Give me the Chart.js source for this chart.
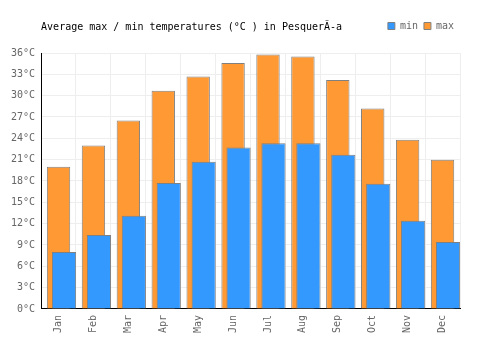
<!DOCTYPE html>
<html>
<head>
<meta charset="utf-8">
<script src="https://cdn.jsdelivr.net/npm/chart.js@4.4.1/dist/chart.umd.min.js"></script>
<style>
	html, body { margin: 0; padding: 0; background: #fff; }
</style>
</head>
<body>
<canvas id="chartTemps" width="500" height="350"></canvas>
<script>
'use strict'

const titleText = 'Average max / min temperatures (°C ) in PesquerÃ-a';
const months = ['Jan', 'Feb', 'Mar', 'Apr', 'May', 'Jun', 'Jul', 'Aug', 'Sep', 'Oct', 'Nov', 'Dec'];
const minTemps = [8.0, 10.4, 13.1, 17.7, 20.7, 22.7, 23.3, 23.3, 21.7, 17.6, 12.4, 9.4];
const maxTemps = [20.0, 23.0, 26.5, 30.7, 32.7, 34.6, 35.8, 35.5, 32.2, 28.2, 23.8, 21.0];

const fontFamily = '"DejaVu Sans Mono", monospace';
const textColor = '#666666';
const gridColor = '#eeeeee';
const barBorder = '#808080';

let chartTemps = new Chart(document.getElementById('chartTemps'), {
	type: 'bar',
	data: {
		labels: months,
		datasets: [
			{
				// empty slot so that "min" lands on the right half of the month
				label: '',
				data: [],
				categoryPercentage: 0.63,
				barPercentage: 2.2,
			},
			{
				label: 'min',
				data: minTemps,
				backgroundColor: '#3399ff',
				borderColor: barBorder,
				borderWidth: 1,
				categoryPercentage: 0.63,
				barPercentage: 2.2,
			},
			{
				label: 'max',
				data: maxTemps,
				grouped: false,
				backgroundColor: '#ff9933',
				borderColor: barBorder,
				borderWidth: 1,
				categoryPercentage: 1,
				barPercentage: 0.67,
			},
		],
	},
	options: {
		responsive: false,
		animation: false,
		layout: {
			padding: { top: 15, left: 5, right: 40, bottom: 11 },
		},
		plugins: {
			legend: {
				position: 'top',
				align: 'end',
				labels: {
					boxWidth: 7,
					boxHeight: 7,
					padding: 6,
					color: textColor,
					font: { family: fontFamily, size: 10 },
					filter: function (item) {
						return item.text !== '';
					},
				},
			},
			// title box goes under the legend (low weight) and is pulled up onto the legend line
			title: {
				display: true,
				text: titleText,
				align: 'start',
				fullSize: false,
				weight: 500,
				color: '#000',
				font: { family: fontFamily, size: 10, weight: 'normal' },
				padding: { top: -20, bottom: 20 },
			},
			tooltip: { enabled: false },
		},
		scales: {
			x: {
				grid: {
					color: gridColor,
					drawTicks: false,
				},
				border: { color: '#000' },
				ticks: {
					color: textColor,
					font: { family: fontFamily, size: 10 },
					minRotation: 90,
					maxRotation: 90,
					padding: 6,
				},
			},
			y: {
				min: 0,
				max: 36,
				grid: {
					color: gridColor,
					drawTicks: false,
				},
				border: { color: '#000' },
				ticks: {
					stepSize: 3,
					color: textColor,
					padding: 6,
					font: { family: fontFamily, size: 10 },
					callback: function (value) {
						return value + '°C';
					},
				},
			},
		},
	},
});
</script>
</body>
</html>
